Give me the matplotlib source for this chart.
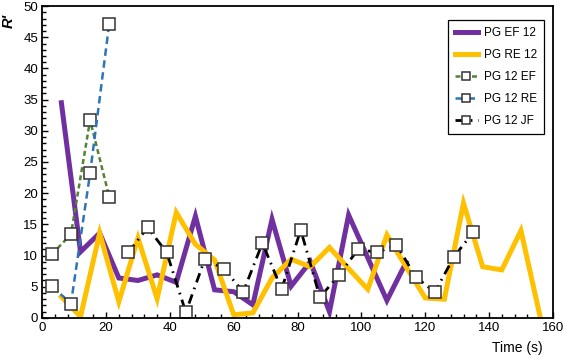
import matplotlib
matplotlib.use('Agg')
import matplotlib.pyplot as plt
from matplotlib.ticker import MultipleLocator

plt.rcParams['font.family'] = ['Liberation Sans', 'DejaVu Sans']

# PG EF 12 (purple)
ef_x = [6, 12, 18, 24, 30, 36, 42, 48, 54, 60, 66, 72, 78, 84, 90, 96, 108, 114]
ef_y = [34.5, 10.6, 13.6, 6.4, 6.0, 6.9, 5.7, 16.3, 4.5, 4.2, 2.1, 15.8, 5.1, 9.0, 1.0, 16.5, 2.8, 8.9]

# PG RE 12 (yellow)
re_x = [6, 12, 18, 24, 30, 36, 42, 48, 54, 60, 66, 72, 78, 84, 90, 96, 102, 108, 114, 120, 126,
        132, 138, 144, 150, 156]
re_y = [3.4, 0.2, 13.6, 2.6, 12.8, 3.1, 16.9, 11.8, 9.3, 0.5, 0.8, 6.4, 9.4, 8.2, 11.3, 7.9, 4.6,
        13.3, 8.2, 3.2, 3.0, 18.4, 8.2, 7.7, 14.0, 0.2]

# PG 12 EF (green markers)
ef12_x = [3, 9, 15, 21]
ef12_y = [10.2, 13.4, 31.7, 19.4]

# PG 12 RE (blue markers)
re12_x = [3, 9, 15, 21]
re12_y = [5.1, 2.3, 23.2, 47.2]

# PG 12 JF (black markers)
jf_x = [27, 33, 39, 45, 51, 57, 63, 69, 75, 81, 87, 93, 99, 105, 111, 117, 123, 129, 135]
jf_y = [10.5, 14.5, 10.5, 0.9, 9.5, 7.8, 4.2, 12.0, 4.6, 14.1, 3.3, 6.9, 11.0, 10.5, 11.7, 6.6,
        4.1, 9.8, 13.7]

fig = plt.figure(figsize=(5.63, 3.58), dpi=100)
ax = fig.add_axes([0.075, 0.112, 0.907, 0.871])

mk = dict(marker='s', markersize=8, markerfacecolor='white', markeredgecolor='#333333',
          markeredgewidth=1.1)

ax.plot(ef_x, ef_y, color='#7030a0', linewidth=3.6, solid_joinstyle='miter', label='PG EF 12')
ax.plot(re_x, re_y, color='#ffc000', linewidth=3.6, solid_joinstyle='miter', label='PG RE 12')
ax.plot(ef12_x, ef12_y, color='#548235', linewidth=1.8, dashes=(2, 1.3), label='PG 12 EF', **mk)
ax.plot(re12_x, re12_y, color='#2e75b6', linewidth=1.8, dashes=(3, 1.8), label='PG 12 RE', **mk)
ax.plot(jf_x, jf_y, color='black', linewidth=2, dashes=(3.5, 2, 0.6, 2), label='PG 12 JF', **mk)

ax.set_xlim(0, 160)
ax.set_ylim(0, 50)
ax.xaxis.set_major_locator(MultipleLocator(20))
ax.xaxis.set_minor_locator(MultipleLocator(4))
ax.yaxis.set_major_locator(MultipleLocator(5))
ax.yaxis.set_minor_locator(MultipleLocator(1))
ax.tick_params(which='both', direction='in', top=False, right=False, labelsize=9.5,
               width=1, colors='black')
ax.tick_params(which='major', length=4, pad=3)
ax.tick_params(which='minor', length=3)
for s in ax.spines.values():
    s.set_linewidth(1.3)

ax.set_xlabel('Time (s)', fontsize=10)
ax.xaxis.set_label_coords(0.93, -0.075)
ax.set_ylabel("R'", fontsize=10.5, fontstyle='italic', fontweight='bold')
ax.yaxis.set_label_coords(-0.052, 0.952)

leg = ax.legend(loc='upper right', bbox_to_anchor=(0.995, 0.975), fontsize=8.5, fancybox=False,
                framealpha=1, edgecolor='black', handlelength=2.0, labelspacing=0.85,
                borderpad=0.6, handletextpad=0.5, markerscale=0.7)
leg.get_frame().set_linewidth(0.9)

fig.savefig('out.png', dpi=100)
plt.close()
